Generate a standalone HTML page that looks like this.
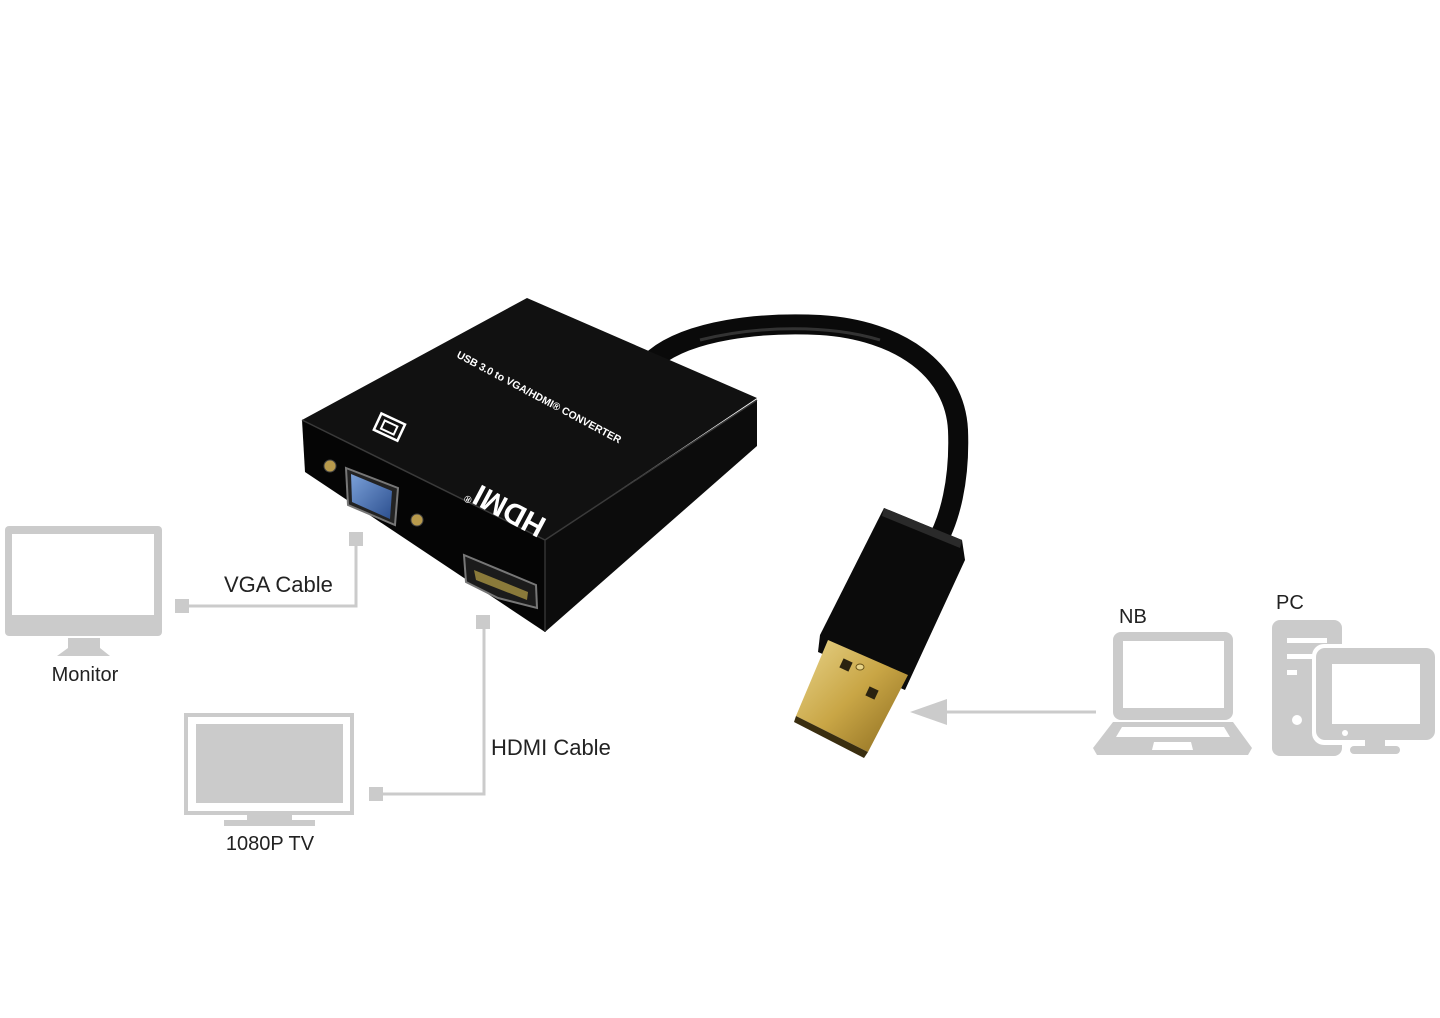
<!DOCTYPE html>
<html><head><meta charset="utf-8"><style>
html,body{margin:0;padding:0;background:#fff;}
svg{display:block;}
text{font-family:"Liberation Sans",sans-serif;}
</style></head><body>
<svg width="1440" height="1018" viewBox="0 0 1440 1018" xmlns="http://www.w3.org/2000/svg">
<defs>
<linearGradient id="gold" x1="0" y1="0" x2="1" y2="1">
<stop offset="0" stop-color="#e8d48a"/><stop offset="0.5" stop-color="#c9a646"/><stop offset="1" stop-color="#8a6a1e"/>
</linearGradient>
<linearGradient id="blue" x1="0" y1="0" x2="1" y2="1">
<stop offset="0" stop-color="#7aa0d8"/><stop offset="1" stop-color="#2c4f8f"/>
</linearGradient>
</defs>
<rect width="1440" height="1018" fill="#fff"/>

<!-- Monitor -->
<rect x="5" y="526" width="157" height="110" rx="4" fill="#cbcbcb"/>
<rect x="12" y="534" width="142" height="81" fill="#fff"/>
<polygon points="68,638 100,638 100,648 110,656 57,656 68,648" fill="#cbcbcb"/>
<text x="85" y="681" font-size="20" text-anchor="middle" fill="#222">Monitor</text>

<!-- VGA connector -->
<rect x="175" y="599" width="14" height="14" fill="#cbcbcb"/>
<polyline points="189,606 356,606 356,542" fill="none" stroke="#cbcbcb" stroke-width="3"/>
<rect x="349" y="532" width="14" height="14" fill="#cbcbcb"/>
<text x="224" y="592" font-size="22" fill="#222">VGA Cable</text>

<!-- TV -->
<rect x="186" y="715" width="166" height="98" fill="none" stroke="#cbcbcb" stroke-width="4"/>
<rect x="196" y="724" width="147" height="79" fill="#cbcbcb"/>
<rect x="247" y="813" width="45" height="7" fill="#cbcbcb"/>
<rect x="224" y="820" width="91" height="6" fill="#cbcbcb"/>
<text x="270" y="850" font-size="20" text-anchor="middle" fill="#222">1080P TV</text>

<!-- HDMI connector -->
<rect x="369" y="787" width="14" height="14" fill="#cbcbcb"/>
<polyline points="383,794 484,794 484,628" fill="none" stroke="#cbcbcb" stroke-width="3"/>
<rect x="476" y="615" width="14" height="14" fill="#cbcbcb"/>
<text x="491" y="755" font-size="22" fill="#222">HDMI Cable</text>

<!-- Arrow -->
<line x1="940" y1="712" x2="1096" y2="712" stroke="#cbcbcb" stroke-width="3"/>
<polygon points="910,712 947,699 947,725" fill="#cbcbcb"/>

<!-- NB -->
<text x="1119" y="623" font-size="20" fill="#222">NB</text>
<rect x="1113" y="632" width="120" height="88" rx="8" fill="#cbcbcb"/>
<rect x="1123" y="641" width="101" height="67" fill="#fff"/>
<polygon points="1113,722 1233,722 1252,748 1248,755 1097,755 1093,748" fill="#cbcbcb"/>
<polygon points="1122,727 1224,727 1230,737 1116,737" fill="#fff"/>
<polygon points="1154,742 1191,742 1193,750 1152,750" fill="#fff"/>

<!-- PC -->
<text x="1276" y="609" font-size="20" fill="#222">PC</text>
<rect x="1272" y="620" width="70" height="136" rx="8" fill="#cbcbcb"/>
<rect x="1287" y="638" width="40" height="5" fill="#fff"/>
<rect x="1287" y="654" width="40" height="5" fill="#fff"/>
<rect x="1287" y="670" width="10" height="5" fill="#fff"/>
<circle cx="1297" cy="720" r="5" fill="#fff"/>
<rect x="1312" y="644" width="128" height="101" rx="12" fill="#fff"/>
<rect x="1316" y="648" width="119" height="92" rx="9" fill="#cbcbcb"/>
<rect x="1332" y="664" width="88" height="60" fill="#fff"/>
<circle cx="1345" cy="733" r="3" fill="#fff"/>
<rect x="1365" y="740" width="20" height="8" fill="#cbcbcb"/>
<rect x="1350" y="746" width="50" height="8" rx="4" fill="#cbcbcb"/>

<!-- Cable -->
<path d="M655,358 C690,330 760,322 820,325 C900,330 955,370 958,430 C960,480 950,520 935,545" fill="none" stroke="#0a0a0a" stroke-width="20" stroke-linecap="round"/>
<path d="M700,340 C760,325 830,325 880,340" fill="none" stroke="#333" stroke-width="3"/>
<!-- Device -->
<polygon points="527,298 757,398 545,540 302,420" fill="#111"/>
<polygon points="302,420 545,540 545,632 305,472" fill="#050505"/>
<polygon points="545,540 757,400 757,446 545,632" fill="#0c0c0c"/>
<polyline points="302,420 545,540 757,400" fill="none" stroke="#3a3a3a" stroke-width="1.5"/>
<line x1="545" y1="540" x2="545" y2="632" stroke="#333" stroke-width="1.5"/>
<!-- VGA port -->
<polygon points="346,468 398,488 395,525 348,505" fill="#222" stroke="#777" stroke-width="2"/>
<polygon points="351,474 392,491 390,519 352,502" fill="url(#blue)"/>
<circle cx="330" cy="466" r="6" fill="#b89a4c" stroke="#444"/>
<circle cx="417" cy="520" r="6" fill="#b89a4c" stroke="#444"/>
<!-- HDMI port -->
<polygon points="464,555 536,585 537,608 498,598 466,582" fill="#1b1b1b" stroke="#777" stroke-width="2"/>
<polygon points="474,570 528,592 527,600 476,580" fill="#8a7a3a"/>
<!-- VGA icon -->
<g transform="translate(389,428) rotate(25)">
<rect x="-13" y="-10" width="26" height="18" fill="none" stroke="#fff" stroke-width="2.5"/>
<rect x="-7" y="-5" width="14" height="9" fill="none" stroke="#fff" stroke-width="2"/>
</g>
<text transform="translate(456,357) rotate(28)" font-size="10.5" font-weight="bold" fill="#fff">USB 3.0 to VGA/HDMI® CONVERTER</text>
<text transform="translate(548,520) rotate(208)" font-size="30" font-weight="bold" fill="#fff">HDMI<tspan font-size="10" dy="-16">®</tspan></text>

<!-- USB plug -->
<polygon points="884,508 962,540 965,560 905,690 818,652 820,635" fill="#0b0b0b"/>
<polygon points="884,508 962,540 960,548 882,516" fill="#2a2a2a"/>
<polygon points="828,640 908,675 868,752 796,716" fill="url(#gold)"/>
<polygon points="796,716 868,752 864,758 794,722" fill="#3a2e10"/>
<rect x="841" y="660" width="10" height="10" fill="#2a2210" transform="rotate(25 846 665)"/>
<rect x="867" y="688" width="10" height="10" fill="#2a2210" transform="rotate(25 872 693)"/>
<ellipse cx="860" cy="667" rx="4" ry="3" fill="#e8d48a" stroke="#6a5418"/>
</svg>
</body></html>
